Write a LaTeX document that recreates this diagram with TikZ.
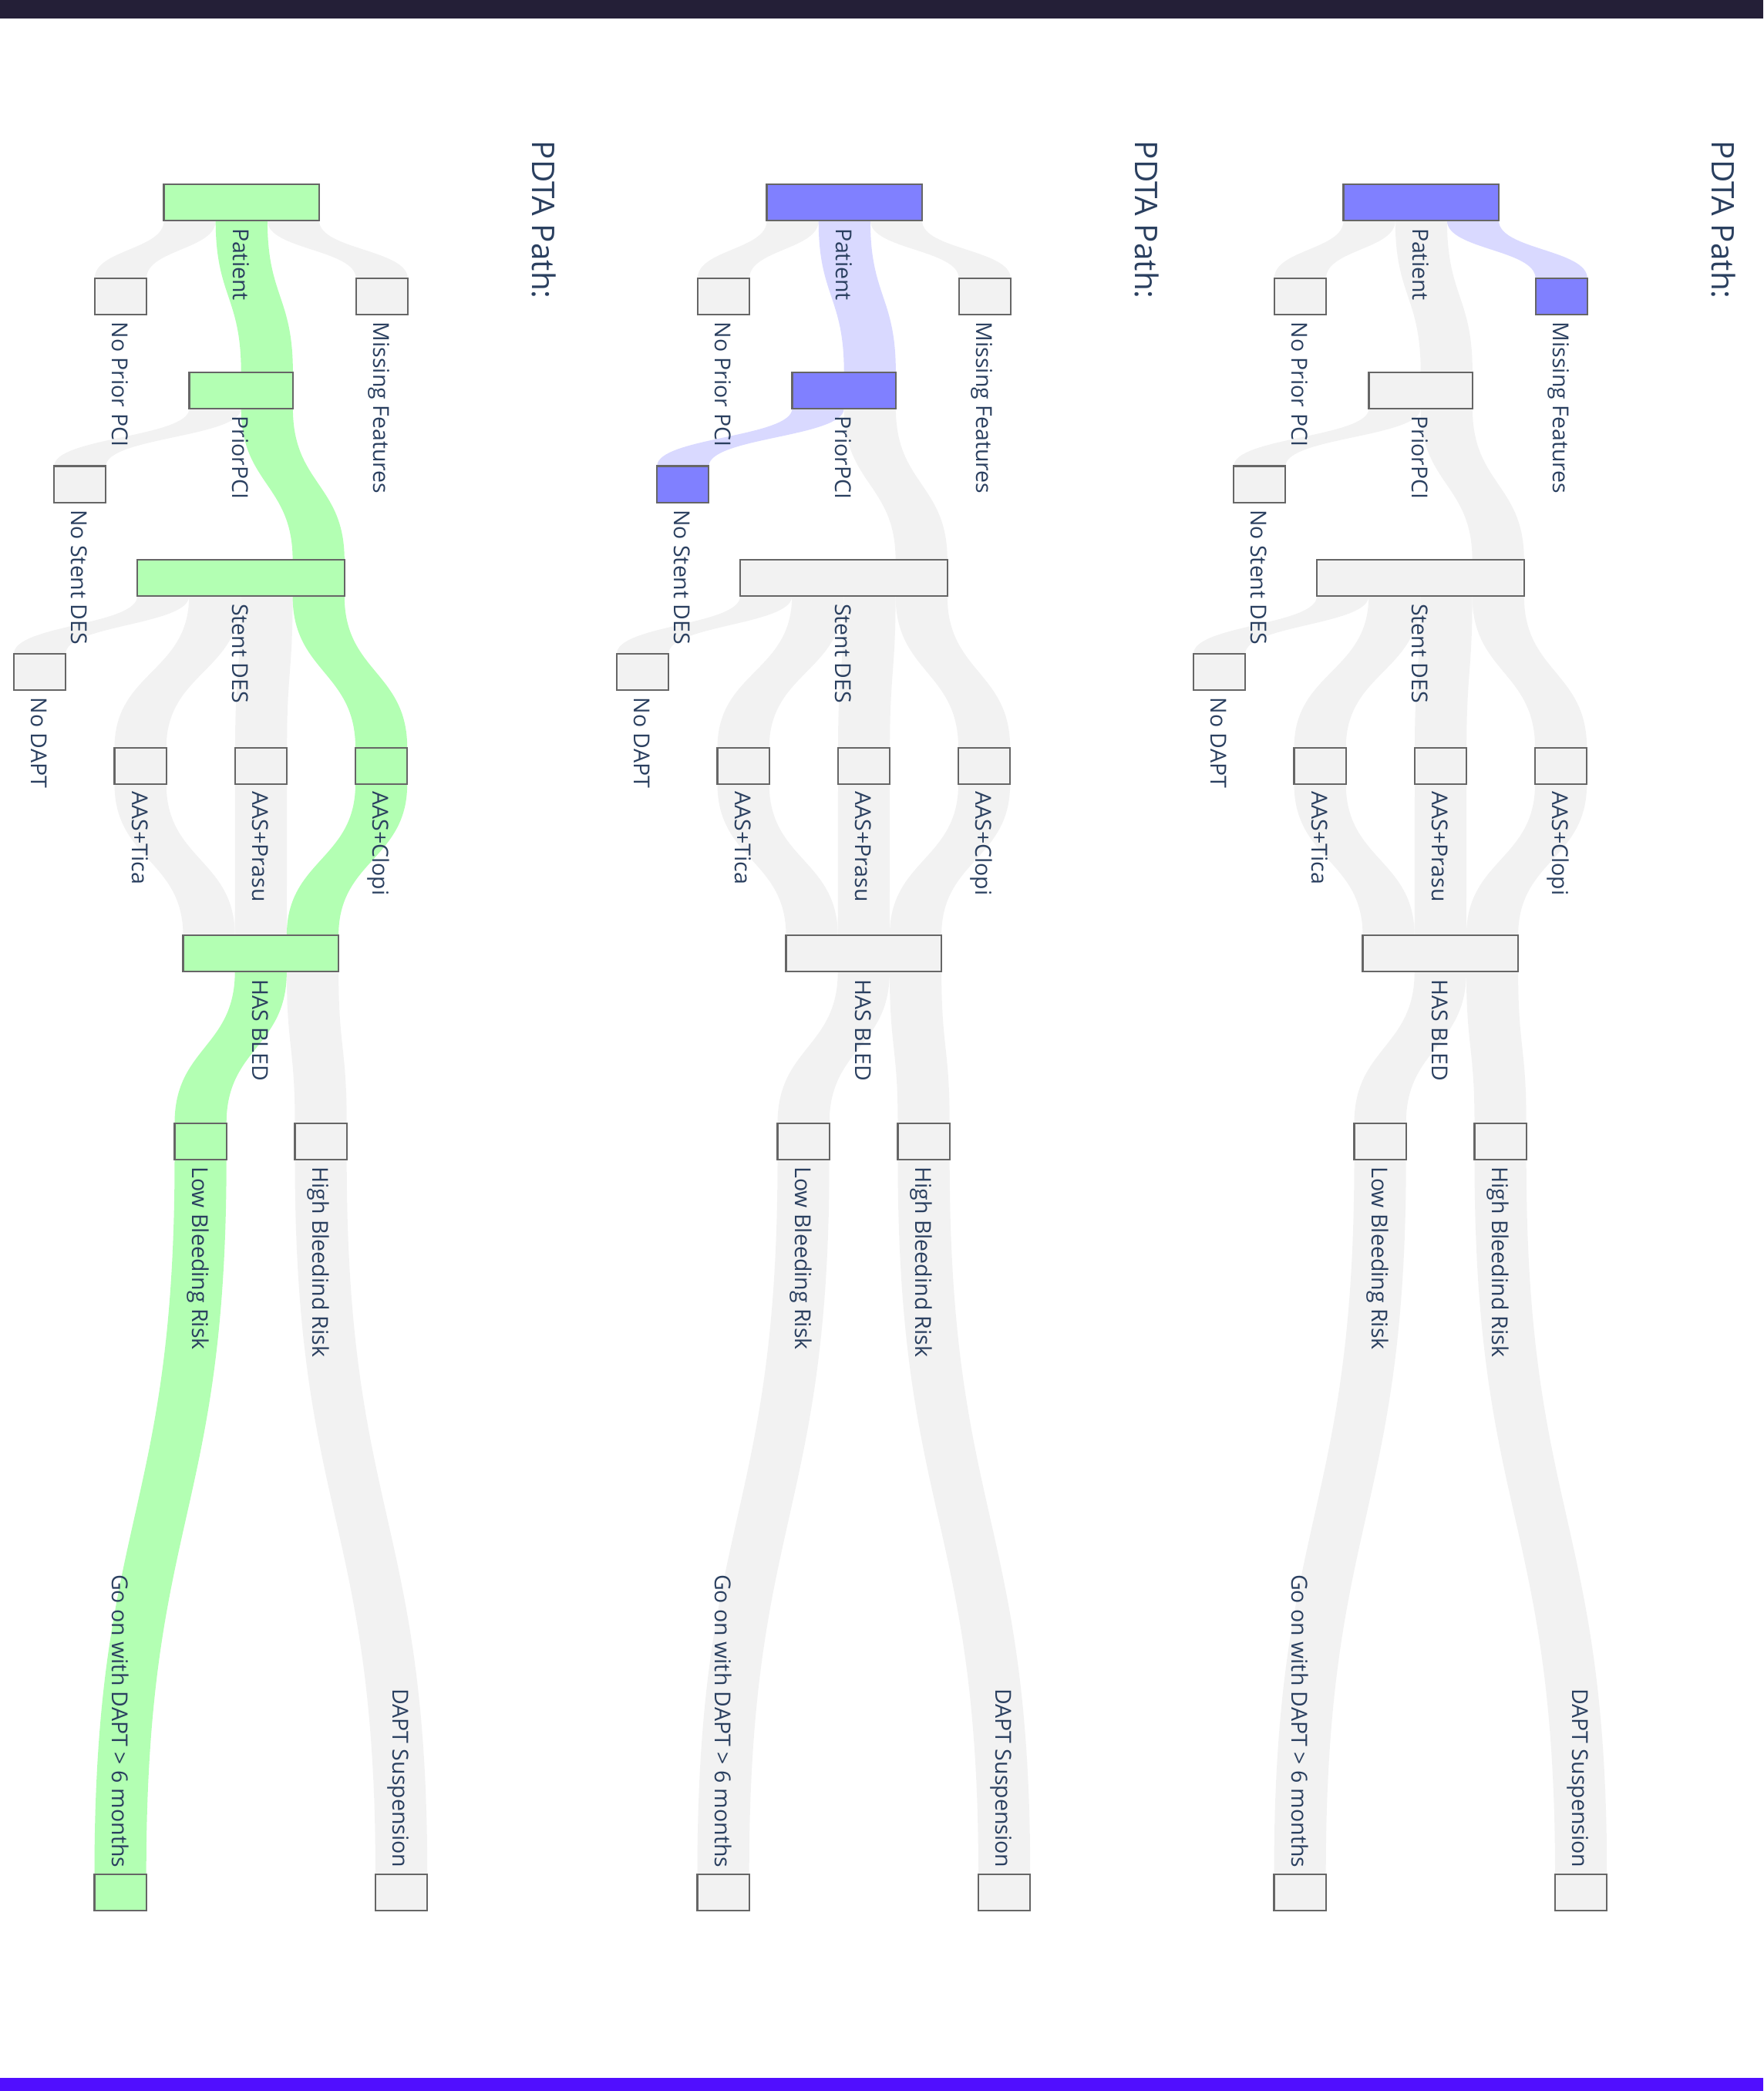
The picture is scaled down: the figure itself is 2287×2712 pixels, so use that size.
\documentclass[tikz,border=0pt]{standalone}
\usepackage{fontspec}
\setmainfont{Open Sans}
\usetikzlibrary{calc, backgrounds}

\definecolor{plotlytext}{HTML}{2A3F5F}
\definecolor{topbar}{HTML}{241F37}
\definecolor{bottombar}{HTML}{500EFF}
\definecolor{nodegrey}{HTML}{F2F2F2}
\definecolor{linkgrey}{HTML}{F2F2F2}
\definecolor{pathgreen}{HTML}{B3FFB3}
\definecolor{pathblue}{HTML}{8080FF}
\definecolor{linkblue}{HTML}{D9D9FF}

% node of a panel: name, centre x, row, width (flow units), text
\newcommand{\pdtanode}[5]{%
  \node[box, n-#1, minimum width=#4*67.2*0.01cm] (\pp#1) at ({\ox+#2}, {262.8+121.75*#3}) {};
  \node[lbl, anchor=base west] (\pp#1-t) at ($(\pp#1.south)+(-11,9)$) {#5};}
% last column: text before the node
\newcommand{\pdtalast}[5]{%
  \node[box, n-#1, minimum width=#4*67.2*0.01cm] (\pp#1) at ({\ox+#2}, {262.8+121.75*#3}) {};
  \node[lbl, anchor=base east] (\pp#1-t) at ($(\pp#1.north)+(-11,-8)$) {#5};}
% band: source, from, to, target, from, to
\newcommand{\sankeyflow}[6]{%
  \path ($(\pp#1.south west)!#2!(\pp#1.south east)$) coordinate (s1)
        ($(\pp#1.south west)!#3!(\pp#1.south east)$) coordinate (s2)
        ($(\pp#4.north west)!#5!(\pp#4.north east)$) coordinate (t1)
        ($(\pp#4.north west)!#6!(\pp#4.north east)$) coordinate (t2)
        ($(s1)!0.5!(t1)$) coordinate (m);
  \fill[l-#1-#4] (s1) .. controls (s1 |- m) and (t1 |- m) .. (t1) -- (t2)
    .. controls (t2 |- m) and (s2 |- m) .. (s2) -- cycle;}

\newcommand{\pdtapanel}{%
  \node[title] (\pp title) at ({\ox+706}, 182) {PDTA Path:};
  \pdtanode{patient}{313.3}{0}{3}{Patient}
  \pdtanode{noprior}{156.4}{1}{1}{No Prior PCI}
  \pdtanode{missing}{495.2}{1}{1}{Missing Features}
  \pdtanode{priorpci}{312.7}{2}{2}{PriorPCI}
  \pdtanode{nostent}{103.8}{3}{1}{No Stent DES}
  \pdtanode{stent}{312.4}{4}{4}{Stent DES}
  \pdtanode{nodapt}{51.6}{5}{1}{No DAPT}
  \pdtanode{tica}{182.1}{6}{1}{AAS+Tica}
  \pdtanode{prasu}{338.6}{6}{1}{AAS+Prasu}
  \pdtanode{clopi}{494.6}{6}{1}{AAS+Clopi}
  \pdtanode{hasbled}{338.3}{8}{3}{HAS BLED}
  \pdtanode{low}{260.1}{10}{1}{Low Bleeding Risk}
  \pdtanode{high}{416.1}{10}{1}{High Bleedind Risk}
  \pdtalast{goon}{156.1}{18}{1}{Go on with DAPT > 6 months}
  \pdtalast{susp}{520.6}{18}{1}{DAPT Suspension}
  \begin{pgfonlayer}{background}
    \sankeyflow{patient}{0}{1/3}{noprior}{0}{1}
    \sankeyflow{patient}{1/3}{2/3}{priorpci}{0.5}{1}
    \sankeyflow{patient}{2/3}{1}{missing}{0}{1}
    \sankeyflow{priorpci}{0}{0.5}{nostent}{0}{1}
    \sankeyflow{priorpci}{0.5}{1}{stent}{0.75}{1}
    \sankeyflow{stent}{0}{0.25}{nodapt}{0}{1}
    \sankeyflow{stent}{0.25}{0.5}{tica}{0}{1}
    \sankeyflow{stent}{0.5}{0.75}{prasu}{0}{1}
    \sankeyflow{stent}{0.75}{1}{clopi}{0}{1}
    \sankeyflow{tica}{0}{1}{hasbled}{0}{1/3}
    \sankeyflow{prasu}{0}{1}{hasbled}{1/3}{2/3}
    \sankeyflow{clopi}{0}{1}{hasbled}{2/3}{1}
    \sankeyflow{hasbled}{1/3}{2/3}{low}{0}{1}
    \sankeyflow{hasbled}{2/3}{1}{high}{0}{1}
    \sankeyflow{low}{0}{1}{goon}{0}{1}
    \sankeyflow{high}{0}{1}{susp}{0}{1}
  \end{pgfonlayer}}

\begin{document}
\begin{tikzpicture}[
  x=0.01cm, y=-0.01cm,
  box/.style={draw=black!60, line width=0.6pt, fill=nodegrey, minimum height=47*0.01cm,
    inner sep=0pt, outer sep=0pt},
  lbl/.style={rotate=-90, inner sep=0pt, text=plotlytext, font=\fontsize{8.1}{9}\selectfont},
  title/.style={rotate=-90, anchor=west, inner sep=0pt, text=plotlytext,
    font=\fontsize{11.5}{14}\selectfont},
  plain node/.style={n-#1/.style={}},
  plain node/.list={patient,noprior,missing,priorpci,nostent,stent,nodapt,tica,prasu,
    clopi,hasbled,low,high,goon,susp},
  green node/.style={n-#1/.style={fill=pathgreen}},
  blue node/.style={n-#1/.style={fill=pathblue}},
  plain flow/.style={l-#1/.style={fill=linkgrey}},
  plain flow/.list={patient-noprior,patient-priorpci,patient-missing,priorpci-nostent,
    priorpci-stent,stent-nodapt,stent-tica,stent-prasu,stent-clopi,tica-hasbled,
    prasu-hasbled,clopi-hasbled,hasbled-low,hasbled-high,low-goon,high-susp},
  green flow/.style={l-#1/.style={fill=pathgreen}},
  blue flow/.style={l-#1/.style={fill=linkblue}}]
\useasboundingbox (0,0) rectangle (2287,2712);
\fill[topbar] (0,0) rectangle (2287,24);
\fill[bottombar] (0,2695) rectangle (2287,2712);

% green path
\begin{scope}[green node/.list={patient,priorpci,stent,clopi,hasbled,low,goon},
  green flow/.list={patient-priorpci,priorpci-stent,stent-clopi,clopi-hasbled,hasbled-low,low-goon}]
\def\pp{a-}\def\ox{0}
\pdtapanel
\end{scope}

% stopped at No Stent DES
\begin{scope}[blue node/.list={patient,priorpci,nostent},
  blue flow/.list={patient-priorpci,priorpci-nostent}]
\def\pp{b-}\def\ox{782}
\pdtapanel
\end{scope}

% missing features
\begin{scope}[blue node/.list={patient,missing}, blue flow/.list={patient-missing}]
\def\pp{c-}\def\ox{1530}
\pdtapanel
\end{scope}
\end{tikzpicture}
\end{document}
